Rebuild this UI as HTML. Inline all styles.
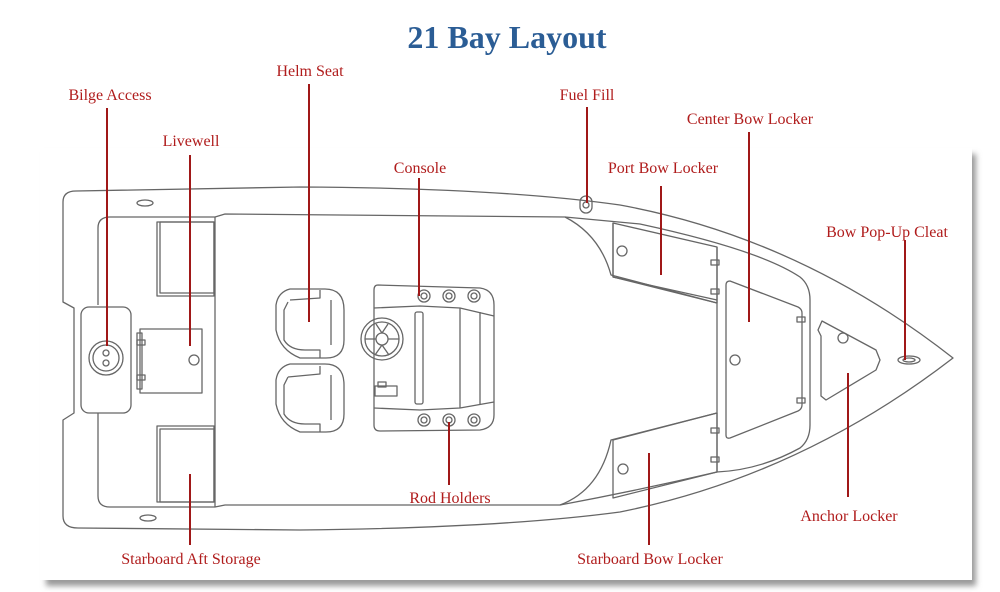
<!DOCTYPE html>
<html><head><meta charset="utf-8"><style>
html,body{margin:0;padding:0;background:#fff;width:1000px;height:592px;overflow:hidden}
svg{display:block}
</style></head><body>
<svg width="1000" height="592" viewBox="0 0 1000 592" xmlns="http://www.w3.org/2000/svg">
<defs><filter id="sh" x="-5%" y="-5%" width="110%" height="115%"><feGaussianBlur stdDeviation="3"/></filter></defs>
<rect x="46" y="154" width="930" height="432" fill="#999" filter="url(#sh)"/>
<rect x="40" y="148" width="932" height="432" fill="#fff"/>
<g fill="none" stroke="#666" stroke-width="1.3" stroke-linejoin="round">
<!-- outer hull -->
<path d="M63,202 Q63,191 76,191 L300,187 Q500,188 620,205 Q800,238 953,358 Q800,476 620,512 Q500,528 300,530 L78,528 Q63,528 63,516 L63,420 L74,413 L74,308 L63,302 Z"/>
<!-- inner cockpit -->
<path d="M98,305 L98,228 Q98,217 110,217 L215,217 L225,214 L565,217 Q600,235 611,275 L717,303"/>
<path d="M98,413 L98,496 Q98,507 110,507 L215,507 L225,505 L560,505 Q600,490 611,440 L717,413"/>
<path d="M565,217 L640,224 Q760,250 800,277 Q810,285 810,300 L810,425 Q810,440 800,448 Q760,470 717,472 Q640,490 560,505"/>
<line x1="215" y1="217" x2="215" y2="507"/>
<!-- transom box -->
<rect x="81" y="307" width="50" height="106" rx="8"/>
<circle cx="106" cy="358" r="17"/><circle cx="106" cy="358" r="13"/>
<circle cx="106" cy="353" r="3"/><circle cx="106" cy="363" r="3"/>
<!-- livewell -->
<rect x="140" y="329" width="62" height="64"/>
<rect x="137" y="333" width="5" height="56"/>
<rect x="137" y="340" width="8" height="5"/><rect x="137" y="375" width="8" height="5"/>
<circle cx="194" cy="360" r="5"/>
<!-- aft storage -->
<rect x="157" y="222" width="57" height="74"/><rect x="160" y="222" width="54" height="71"/>
<rect x="157" y="426" width="57" height="76"/><rect x="160" y="429" width="54" height="73"/>
<ellipse cx="145" cy="203" rx="8" ry="3"/><ellipse cx="148" cy="518" rx="8" ry="3"/>
<!-- seats -->
<path d="M290,289 L325,289 Q344,289 344,310 L344,340 Q344,358 326,358 L300,358 Q280,350 276,330 L276,305 Q278,292 290,289 Z"/>
<path d="M290,300 L320,298 L320,290 M288,302 L284,310 L284,340 Q290,350 305,350 L320,350 L320,358"/>
<line x1="331" y1="300" x2="331" y2="345"/>
<path d="M290,364 L325,364 Q344,364 344,385 L344,414 Q344,432 326,432 L300,432 Q280,424 276,404 L276,380 Q278,367 290,364 Z"/>
<path d="M288,377 L320,374 L320,366 M288,377 L284,385 L284,414 Q290,424 305,424 L320,424 L320,432"/>
<line x1="331" y1="375" x2="331" y2="420"/>
<!-- console -->
<path d="M378,285 L480,288 Q494,290 494,305 L494,415 Q494,428 480,430 L380,431 Q374,431 374,425 L374,290 Q374,285 378,285 Z"/>
<path d="M374,308 L420,306 L460,308 L494,316"/>
<path d="M374,408 L420,410 L460,408 L494,402"/>
<line x1="460" y1="308" x2="460" y2="408"/><line x1="480" y1="312" x2="480" y2="404"/>
<rect x="415" y="312" width="8" height="92" rx="2"/>
<circle cx="382" cy="339" r="21"/><circle cx="382" cy="339" r="17"/><circle cx="382" cy="339" r="6"/>
<path d="M376,339 L365,339 M388,339 L399,339 M382,345 L375,355 M382,345 L389,355 M382,333 L376,324 M382,333 L388,324"/>
<rect x="375" y="386" width="22" height="10"/><rect x="378" y="382" width="8" height="5"/>
<circle cx="424" cy="296" r="6"/><circle cx="449" cy="296" r="6"/><circle cx="474" cy="296" r="6"/>
<circle cx="424" cy="420" r="6"/><circle cx="449" cy="420" r="6"/><circle cx="474" cy="420" r="6"/>
<circle cx="424" cy="296" r="3"/><circle cx="449" cy="296" r="3"/><circle cx="474" cy="296" r="3"/>
<circle cx="424" cy="420" r="3"/><circle cx="449" cy="420" r="3"/><circle cx="474" cy="420" r="3"/>
<!-- fuel fill -->
<rect x="580" y="196" width="12" height="17" rx="6"/><circle cx="586" cy="205" r="3"/>
<!-- bow lockers -->
<path d="M613,223 L717,247 L717,303 L613,277 Z"/>
<path d="M613,223 L613,277 L717,300"/>
<circle cx="622" cy="251" r="5"/>
<path d="M613,440 L717,413 L717,472 L613,498 Z"/>
<circle cx="623" cy="469" r="5"/>
<line x1="717" y1="247" x2="717" y2="472"/>
<rect x="711" y="260" width="8" height="5"/><rect x="711" y="289" width="8" height="5"/>
<rect x="711" y="428" width="8" height="5"/><rect x="711" y="457" width="8" height="5"/>
<!-- center locker -->
<path d="M730,281 L798,307 Q802,309 802,313 L802,405 Q802,409 798,411 L730,438 Q726,439 726,435 L726,285 Q726,281 730,281 Z"/>
<circle cx="735" cy="360" r="5"/>
<rect x="797" y="317" width="8" height="5"/><rect x="797" y="398" width="8" height="5"/>
<!-- anchor locker -->
<path d="M822,321 L876,350 L880,360 L876,370 L826,400 L821,396 L821,336 L818,330 Z"/>
<circle cx="843" cy="338" r="5"/>
<ellipse cx="909" cy="360" rx="11" ry="4"/><ellipse cx="909" cy="360" rx="6" ry="2"/>
</g>
<!-- leader lines -->
<g stroke="#a01818" stroke-width="2">
<line x1="107" y1="108" x2="107" y2="346"/>
<line x1="190" y1="155" x2="190" y2="346"/>
<line x1="309" y1="84" x2="309" y2="322"/>
<line x1="419" y1="178" x2="419" y2="296"/>
<line x1="587" y1="107" x2="587" y2="203"/>
<line x1="661" y1="186" x2="661" y2="275"/>
<line x1="749" y1="132" x2="749" y2="322"/>
<line x1="905" y1="240" x2="905" y2="360"/>
<line x1="449" y1="422" x2="449" y2="485"/>
<line x1="190" y1="474" x2="190" y2="545"/>
<line x1="649" y1="453" x2="649" y2="545"/>
<line x1="848" y1="373" x2="848" y2="497"/>
</g>
<text x="507" y="48" text-anchor="middle" font-family="Liberation Serif, serif" font-weight="bold" font-size="32" fill="#2b5d95">21 Bay Layout</text>
<g font-family="Liberation Serif, serif" font-size="16" fill="#b01c1c" text-anchor="middle">
<text x="110" y="100">Bilge Access</text>
<text x="191" y="146">Livewell</text>
<text x="310" y="76">Helm Seat</text>
<text x="420" y="173">Console</text>
<text x="587" y="100">Fuel Fill</text>
<text x="663" y="173">Port  Bow Locker</text>
<text x="750" y="124">Center Bow Locker</text>
<text x="887" y="237">Bow Pop-Up Cleat</text>
<text x="450" y="503">Rod Holders</text>
<text x="191" y="564">Starboard Aft Storage</text>
<text x="650" y="564">Starboard Bow Locker</text>
<text x="849" y="521">Anchor Locker</text>
</g>
</svg>
</body></html>
